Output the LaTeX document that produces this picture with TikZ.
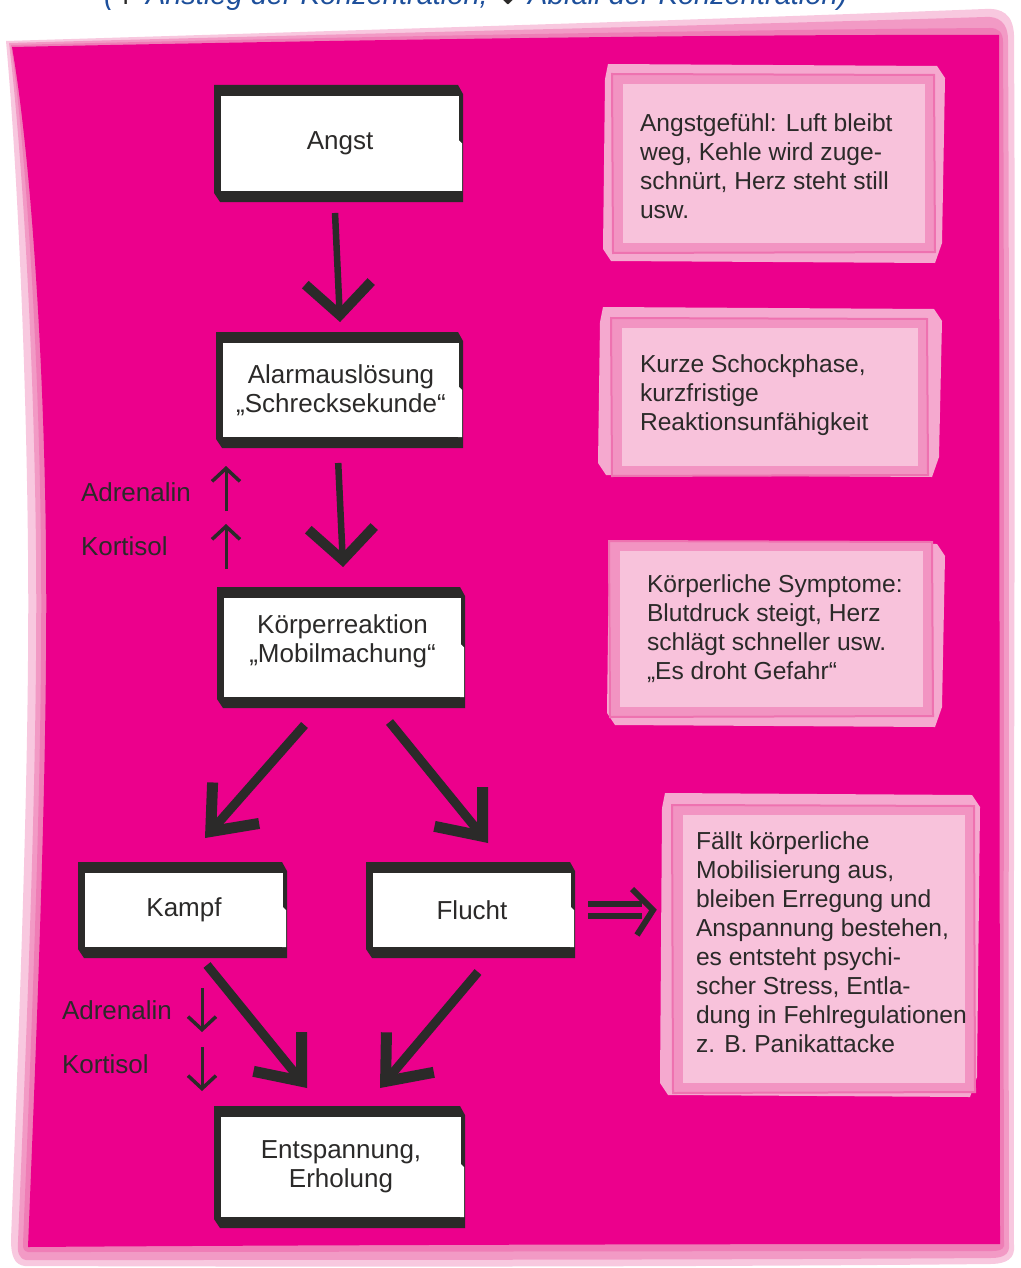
\documentclass[tikz,border=0pt]{standalone}
\usepackage{fontspec}
\setmainfont{Liberation Sans}
\newfontfamily\arrowfont{DejaVu Sans}
\usetikzlibrary{arrows.meta,calc}
\definecolor{sheet}{HTML}{EC008C}
\definecolor{bandA}{HTML}{F8C8DF}
\definecolor{bandB}{HTML}{F29AC5}
\definecolor{bandC}{HTML}{EF7DB6}
\definecolor{noteA}{HTML}{F5A9CF}
\definecolor{noteB}{HTML}{F294C2}
\definecolor{noteLine}{HTML}{EE72B0}
\definecolor{noteIn}{HTML}{F8C2DB}
\definecolor{ink}{HTML}{2B2A29}
\definecolor{titleblue}{HTML}{1D4F9B}

\newcommand\flowbox[6]{%
 \fill[frame] (#2,#3) -- ({#4-5},#3) -- (#4,{#3+9}) -- (#4,#5) -- ({#2+6},#5) -- (#2,{#5-9}) -- cycle;
 \pgfmathsetmacro\fbcx{(#2+7+#4-4)/2}
 \pgfmathsetmacro\fbcy{(#3+11+#5-11)/2}
 \pgfmathsetmacro\fbw{#4-4-#2-7}
 \pgfmathsetmacro\fbh{#5-#3-22}
 \node[flow, minimum width=\fbw pt, minimum height=\fbh pt] (#1) at (\fbcx,\fbcy) {#6};
 \fill[white] ({#4-5},{\fbcy-4}) -- ({#4-1},\fbcy) -- ({#4-1},{#5-11}) -- ({#4-5},{#5-11}) -- cycle;
}
% name, outer x1 y1 x2 y2, inner x1 y1 x2 y2
\newcommand\notebox[9]{%
 \fill[noteA] ({#2+5},#3) -- ({#4-8},{#3+2}) -- (#4,{#3+14}) -- ({#4-3},{#5-20}) -- ({#4-10},#5) -- ({#2+8},{#5-2}) -- (#2,{#5-14}) -- ({#2+2},{#3+15}) -- cycle;
 \filldraw[fill=noteB, draw=noteLine, line width=2pt] ({#6-11},{#7-10}) -- ({#8+9},{#7-9}) -- ({#8+10},{#9+9}) -- ({#6-10},{#9+10}) -- cycle;
 \pgfmathsetmacro\nbcx{(#6+#8)/2}
 \pgfmathsetmacro\nbcy{(#7+#9)/2}
 \pgfmathsetmacro\nbw{#8-#6}
 \pgfmathsetmacro\nbh{#9-#7}
 \node[notebox, minimum width=\nbw pt, minimum height=\nbh pt] (#1) at (\nbcx,\nbcy) {};
}

\begin{document}
\begin{tikzpicture}[x=1pt,y=-1pt,
  every node/.style={inner sep=0pt, outer sep=0pt, text=ink},
  txt/.style={font=\fontsize{24.6}{29}\selectfont},
  bigtxt/.style={font=\fontsize{26}{29}\selectfont},
  flow/.style={bigtxt, fill=white, align=center},
  notebox/.style={fill=noteIn},
  notetext/.style={txt, align=left, anchor=west},
  lbl/.style={bigtxt, anchor=west},
  frame/.style={fill=ink},
  bigarrow/.style={draw=ink, line width=6.5pt, -{Straight Barb[length=32pt, width=66pt, line width=10pt]}},
  diagarrow/.style={draw=ink, line width=9pt, -{Straight Barb[length=38pt, width=62pt, line width=11pt]}},
  smallarrow/.style={draw=ink, line width=3pt, -{Straight Barb[length=13pt, width=28pt, line width=3.5pt]}},
  dblbar/.style={draw=ink, line width=6pt, double=sheet, double distance=6pt},
  chevron/.style={draw=ink, line width=6pt, line join=miter},
]
\useasboundingbox (0,0) rectangle (1020,1268);
\clip (0,0) rectangle (1020,1268);
\fill[white] (0,0) rectangle (1020,1268);

% title (cut off at top, as in the reference)
\node[anchor=base west, font=\fontsize{29}{34}\selectfont\itshape, text=titleblue] (title) at (104,5)
  {({\arrowfont\color{ink}↑} Anstieg der Konzentration, {\arrowfont\color{ink}↓} Abfall der Konzentration)};

% sheet
\fill[bandA] (6,41) .. controls (300,32) and (700,20) .. (985,9) .. controls (1002,8) and (1013,14) .. (1014,35)
  .. controls (1016,400) and (1013,900) .. (1014,1250) .. controls (1013,1262) and (1000,1264) .. (990,1264)
  .. controls (700,1267) and (300,1267) .. (25,1266) .. controls (14,1265) and (11,1255) .. (11,1240)
  .. controls (20,1000) and (30,750) .. (28,550) .. controls (26,350) and (16,150) .. (6,41) -- cycle;
\fill[bandB] (9,43) .. controls (300,35) and (700,26) .. (985,17) .. controls (998,16) and (1008,22) .. (1008,40)
  .. controls (1010,400) and (1008,900) .. (1009,1248) .. controls (1008,1257) and (998,1258) .. (990,1258)
  .. controls (700,1260) and (300,1260) .. (26,1260) .. controls (19,1259) and (17,1252) .. (18,1242)
  .. controls (28,1000) and (38,750) .. (36,550) .. controls (34,350) and (22,150) .. (9,43) -- cycle;
\fill[bandC] (11,45) .. controls (300,38) and (700,30) .. (990,28) .. controls (998,28) and (1003,32) .. (1003,42)
  .. controls (1005,400) and (1003,900) .. (1004,1246) .. controls (1003,1250) and (998,1251) .. (992,1251)
  .. controls (700,1251) and (300,1252) .. (28,1252) .. controls (24,1251) and (23,1249) .. (23,1244)
  .. controls (33,1000) and (43,750) .. (41,550) .. controls (39,350) and (26,150) .. (11,45) -- cycle;
\fill[sheet] (12,47) .. controls (300,41) and (700,34) .. (999,35) -- (1000,1244)
  .. controls (700,1244) and (300,1245) .. (28,1247)
  .. controls (38,1000) and (48,750) .. (46,550) .. controls (44,350) and (30,150) .. (12,47) -- cycle;

% note boxes
\notebox{n1}{603}{64}{945}{263}{623}{84}{925}{243}
\node[notetext] (n1t) at ([xshift=17pt,yshift=-3pt]n1.west) {Angstgefühl: Luft bleibt\\weg, Kehle wird zuge-\\schnürt, Herz steht still\\usw.};
\notebox{n2}{598}{307}{942}{477}{622}{328}{918}{466}
\node[notetext] (n2t) at ([xshift=18pt,yshift=2pt]n2.west) {Kurze Schockphase,\\kurzfristige\\Reaktionsunfähigkeit};
\notebox{n3}{607}{542}{945}{727}{620}{551}{923}{707}
\node[notetext] (n3t) at ([xshift=27pt]n3.west) {Körperliche Symptome:\\Blutdruck steigt, Herz\\schlägt schneller usw.\\„Es droht Gefahr“};
\notebox{n4}{660}{793}{980}{1097}{683}{815}{965}{1083}
\node[notetext] (n4t) at ([xshift=13pt,yshift=7pt]n4.west) {Fällt körperliche\\Mobilisierung aus,\\bleiben Erregung und\\Anspannung bestehen,\\es entsteht psychi-\\scher Stress, Entla-\\dung in Fehlregulationen\\z. B. Panikattacke};

% flow boxes
\flowbox{angst}{214}{85}{463}{202}{\raisebox{-3pt}{Angst}}
\flowbox{alarm}{216}{332}{463}{448}{Alarmauslösung\\„Schrecksekunde“}
\flowbox{koerper}{217}{587}{465}{708}{Körperreaktion\\„Mobilmachung“\\[-19pt]\strut}
\flowbox{kampf}{78}{862}{287}{958}{Kampf}
\flowbox{flucht}{366}{862}{575}{958}{Flucht}
\flowbox{entsp}{214}{1106}{465}{1228}{Entspannung,\\Erholung}

% main arrows
\draw[bigarrow, shorten <=22pt, shorten >=21pt] ([xshift=-6pt]angst.south) -- (alarm.north);
\draw[bigarrow, shorten <=26pt, shorten >=31pt] ([xshift=-4pt]alarm.south) -- ([xshift=2pt]koerper.north);
\draw[diagarrow] ([xshift=-38pt,yshift=-28pt]koerper.south) -- ([xshift=21pt,yshift=35pt]kampf.north);
\draw[diagarrow] ([xshift=47pt,yshift=-25pt]koerper.south) -- ([xshift=16pt,yshift=30pt]flucht.north);
\draw[diagarrow] ([xshift=23pt,yshift=-18pt]kampf.south) -- ([xshift=-34pt,yshift=29pt]entsp.north);
\draw[diagarrow] ([xshift=6pt,yshift=-25pt]flucht.south) -- ([xshift=39pt,yshift=29pt]entsp.north);

% double arrow Flucht -> note 4
\coordinate (chev) at ([xshift=-30pt]flucht.east -| n4.west);
\draw[dblbar, shorten <=17pt, shorten >=41pt] (flucht.east) -- (flucht.east -| n4.west);
\draw[chevron] ([xshift=-21pt,yshift=21pt]chev) -- (chev) -- ([xshift=-16pt,yshift=-25pt]chev);

% hormone labels
\node[lbl] (adr1) at (81,492) {Adrenalin};
\node[lbl] (kor1) at (81,546) {Kortisol};
\node[lbl] (adr2) at (62,1010) {Adrenalin};
\node[lbl] (kor2) at (62,1064) {Kortisol};
\coordinate (u1a) at (226,511); \coordinate (u1b) at (226,466);
\coordinate (u2a) at (226,569); \coordinate (u2b) at (226,524);
\coordinate (d1a) at (202,988); \coordinate (d1b) at (202,1032);
\coordinate (d2a) at (202,1047); \coordinate (d2b) at (202,1091);
\draw[smallarrow] (u1a) -- (u1b);
\draw[smallarrow] (u2a) -- (u2b);
\draw[smallarrow] (d1a) -- (d1b);
\draw[smallarrow] (d2a) -- (d2b);
\end{tikzpicture}
\end{document}
